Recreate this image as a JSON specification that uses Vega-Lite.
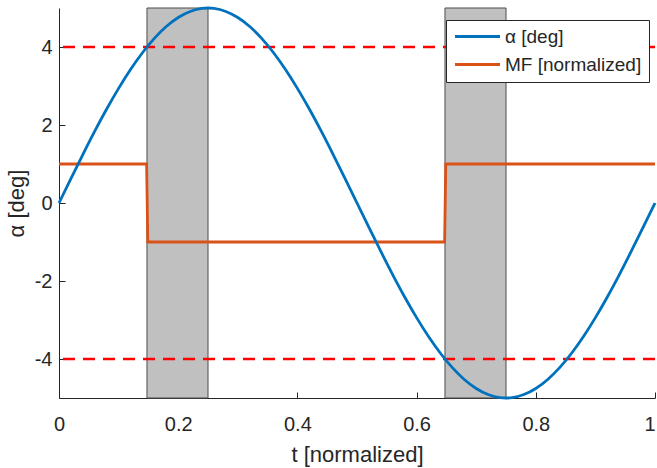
{
  "$schema": "https://vega.github.io/schema/vega-lite/v6.json",
  "width": 596,
  "height": 390,
  "autosize": "none",
  "padding": {"left": 59, "top": 8, "right": 2, "bottom": 70},
  "background": "white",
  "config": {
    "view": {"stroke": null},
    "font": "Liberation Sans",
    "axis": {
      "grid": false,
      "domainColor": "#262626",
      "domainWidth": 1,
      "tickColor": "#262626",
      "tickSize": -6,
      "labelColor": "#262626",
      "labelFontSize": 20,
      "labelFont": "Liberation Sans",
      "titleFont": "Liberation Sans",
      "titleColor": "#262626",
      "titleFontSize": 22,
      "titleFontWeight": "normal"
    },
    "legend": {
      "labelFont": "Liberation Sans",
      "labelFontSize": 19,
      "labelColor": "#262626"
    }
  },
  "datasets": {
    "alpha": [
      {"t": 0, "v": 0}, {"t": 0.02, "v": 0.627}, {"t": 0.04, "v": 1.243}, {"t": 0.06, "v": 1.841},
      {"t": 0.08, "v": 2.409}, {"t": 0.1, "v": 2.939}, {"t": 0.12, "v": 3.423}, {"t": 0.14, "v": 3.853},
      {"t": 0.16, "v": 4.222}, {"t": 0.18, "v": 4.524}, {"t": 0.2, "v": 4.755}, {"t": 0.22, "v": 4.911},
      {"t": 0.24, "v": 4.99}, {"t": 0.25, "v": 5}, {"t": 0.26, "v": 4.99}, {"t": 0.28, "v": 4.911},
      {"t": 0.3, "v": 4.755}, {"t": 0.32, "v": 4.524}, {"t": 0.34, "v": 4.222}, {"t": 0.36, "v": 3.853},
      {"t": 0.38, "v": 3.423}, {"t": 0.4, "v": 2.939}, {"t": 0.42, "v": 2.409}, {"t": 0.44, "v": 1.841},
      {"t": 0.46, "v": 1.243}, {"t": 0.48, "v": 0.627}, {"t": 0.5, "v": 0},
      {"t": 0.52, "v": -0.627}, {"t": 0.54, "v": -1.243}, {"t": 0.56, "v": -1.841},
      {"t": 0.58, "v": -2.409}, {"t": 0.6, "v": -2.939}, {"t": 0.62, "v": -3.423}, {"t": 0.64, "v": -3.853},
      {"t": 0.66, "v": -4.222}, {"t": 0.68, "v": -4.524}, {"t": 0.7, "v": -4.755}, {"t": 0.72, "v": -4.911},
      {"t": 0.74, "v": -4.99}, {"t": 0.75, "v": -5}, {"t": 0.76, "v": -4.99}, {"t": 0.78, "v": -4.911},
      {"t": 0.8, "v": -4.755}, {"t": 0.82, "v": -4.524}, {"t": 0.84, "v": -4.222}, {"t": 0.86, "v": -3.853},
      {"t": 0.88, "v": -3.423}, {"t": 0.9, "v": -2.939}, {"t": 0.92, "v": -2.409}, {"t": 0.94, "v": -1.841},
      {"t": 0.96, "v": -1.243}, {"t": 0.98, "v": -0.627}, {"t": 1, "v": 0}
    ],
    "moment": [
      {"t": 0, "v": 1}, {"t": 0.147, "v": 1}, {"t": 0.149, "v": -1},
      {"t": 0.647, "v": -1}, {"t": 0.649, "v": 1}, {"t": 1, "v": 1}
    ],
    "bands": [
      {"start": 0.1476, "end": 0.25},
      {"start": 0.6476, "end": 0.75}
    ],
    "limits": [{"y": 4}, {"y": -4}]
  },
  "layer": [
    {
      "data": {"name": "bands"},
      "mark": {"type": "rect", "fill": "#c0c0c0", "stroke": "#4d4d4d", "strokeWidth": 1},
      "encoding": {
        "x": {"field": "start", "type": "quantitative", "scale": {"domain": [0, 1], "nice": false, "zero": false},
          "axis": {"values": [0, 0.2, 0.4, 0.6, 0.8, 1], "labelExpr": "'' + datum.value", "labelFlush": false, "labelOverlap": false,
            "labelAlign": {"expr": "datum.value == 1 ? 'right' : 'center'"},
            "title": "t [normalized]", "labelPadding": 22, "titlePadding": 10}},
        "x2": {"field": "end"},
        "y": {"datum": 5, "type": "quantitative", "scale": {"domain": [-5, 5], "nice": false, "zero": false},
          "axis": {"values": [-4, -2, 0, 2, 4], "labelExpr": "'' + datum.value", "labelFlush": false, "title": "α [deg]", "labelPadding": 13, "titlePadding": 6}},
        "y2": {"datum": -5}
      }
    },
    {
      "data": {"name": "limits"},
      "mark": {"type": "rule", "color": "#ff0000", "strokeWidth": 2.5, "strokeDash": [12, 8]},
      "encoding": {"y": {"field": "y", "type": "quantitative"}}
    },
    {
      "data": {"name": "moment"},
      "transform": [{"calculate": "'MF [normalized]'", "as": "series"}],
      "mark": {"type": "line", "strokeWidth": 2.8},
      "encoding": {
        "x": {"field": "t", "type": "quantitative"},
        "y": {"field": "v", "type": "quantitative"},
        "color": {"field": "series", "type": "nominal",
          "scale": {"domain": ["α [deg]", "MF [normalized]"], "range": ["#0072BD", "#D95319"]},
          "legend": {"title": null, "orient": "none", "legendX": 387, "legendY": 12,
            "symbolType": "M-3,0H3", "symbolSize": 225, "symbolStrokeWidth": 3, "symbolOffset": 15,
            "strokeColor": "#262626", "fillColor": "white", "padding": 7, "rowPadding": 8, "labelOffset": 18}}
      }
    },
    {
      "data": {"name": "alpha"},
      "transform": [{"calculate": "'α [deg]'", "as": "series"}],
      "mark": {"type": "line", "strokeWidth": 2.8, "interpolate": "monotone"},
      "encoding": {
        "x": {"field": "t", "type": "quantitative"},
        "y": {"field": "v", "type": "quantitative"},
        "color": {"field": "series", "type": "nominal"}
      }
    }
  ]
}
